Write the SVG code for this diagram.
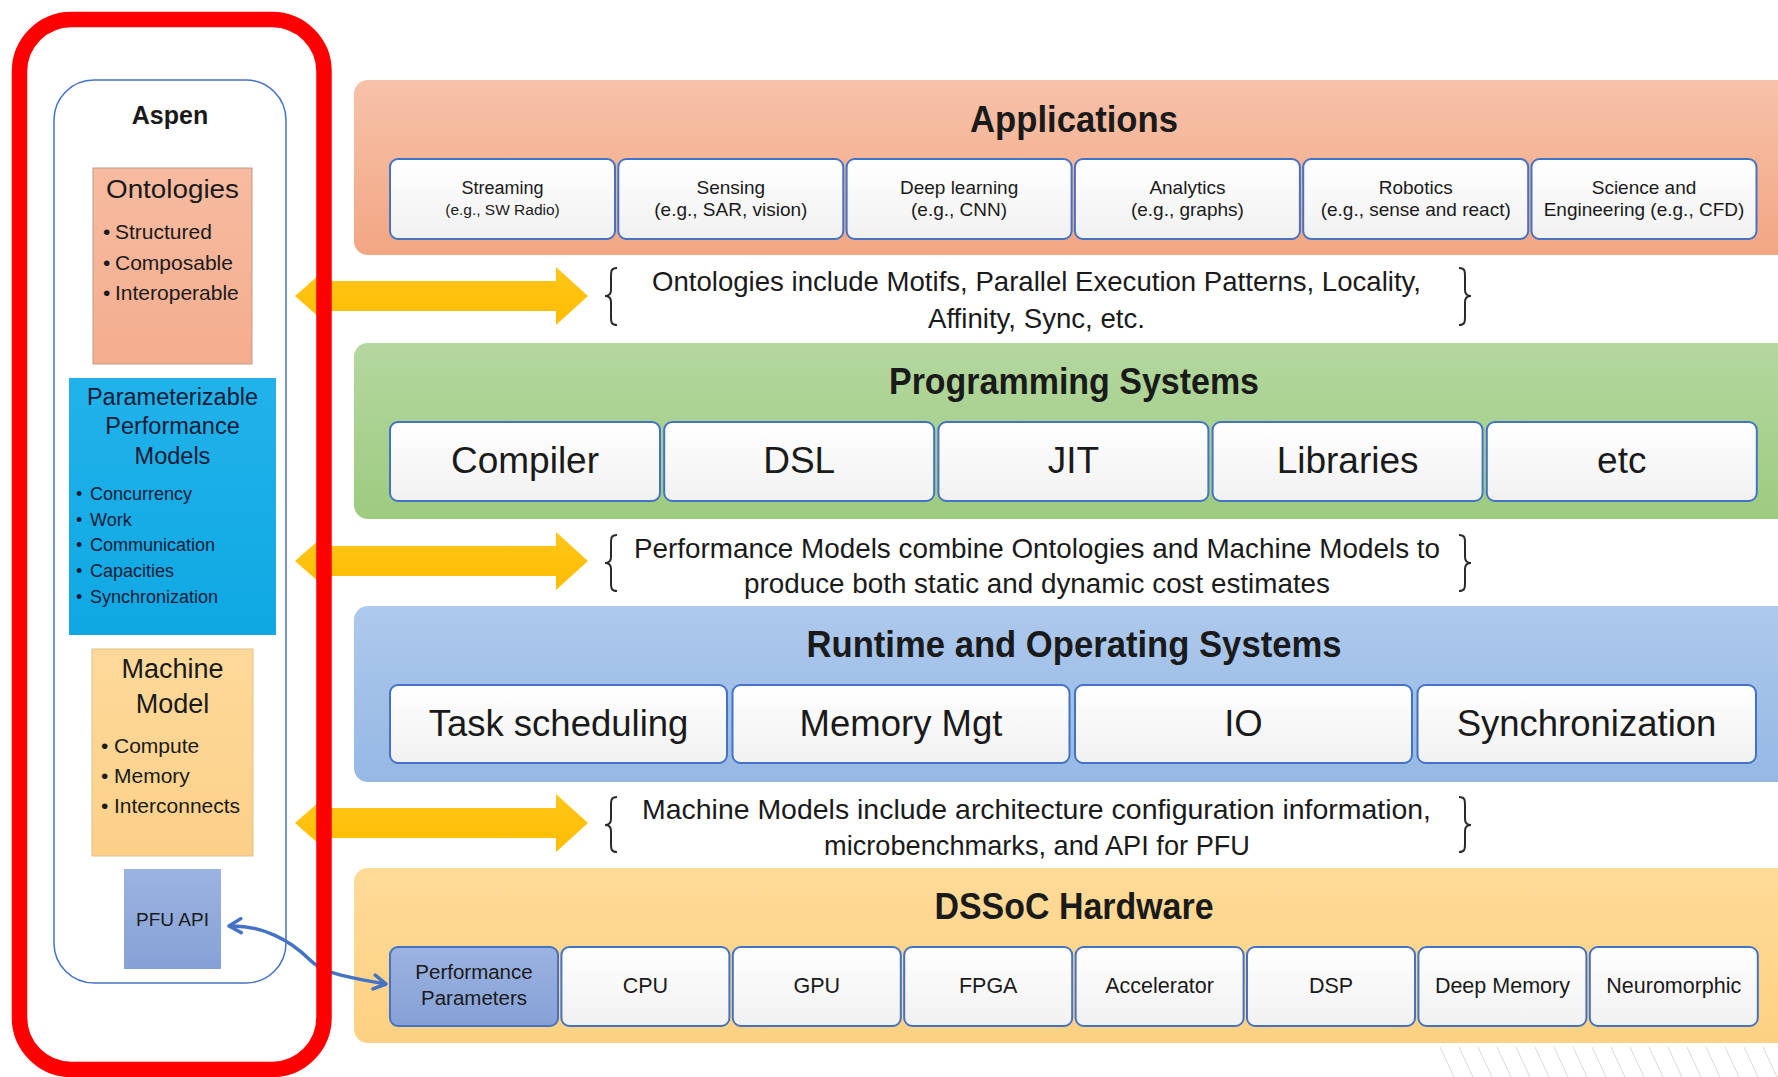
<svg xmlns="http://www.w3.org/2000/svg" width="1778" height="1077" viewBox="0 0 1778 1077">
<defs>
  <linearGradient id="appG" x1="0" y1="0" x2="0" y2="1"><stop offset="0" stop-color="#F7C2A9"/><stop offset="1" stop-color="#F2A683"/></linearGradient>
  <linearGradient id="progG" x1="0" y1="0" x2="0" y2="1"><stop offset="0" stop-color="#B4D79F"/><stop offset="1" stop-color="#9DCB80"/></linearGradient>
  <linearGradient id="rtG" x1="0" y1="0" x2="0" y2="1"><stop offset="0" stop-color="#ADC9EC"/><stop offset="1" stop-color="#96B8E4"/></linearGradient>
  <linearGradient id="hwG" x1="0" y1="0" x2="0" y2="1"><stop offset="0" stop-color="#FFDB98"/><stop offset="1" stop-color="#FDD182"/></linearGradient>
  <linearGradient id="subG" x1="0" y1="0" x2="0" y2="1"><stop offset="0" stop-color="#FFFFFF"/><stop offset="1" stop-color="#F1F1F1"/></linearGradient>
  <linearGradient id="ontG" x1="0" y1="0" x2="0" y2="1"><stop offset="0" stop-color="#F7BBA1"/><stop offset="1" stop-color="#F4AD8E"/></linearGradient>
  <linearGradient id="parG" x1="0" y1="0" x2="0" y2="1"><stop offset="0" stop-color="#22B2EA"/><stop offset="1" stop-color="#0FA8E3"/></linearGradient>
  <linearGradient id="mmG" x1="0" y1="0" x2="0" y2="1"><stop offset="0" stop-color="#FED99A"/><stop offset="1" stop-color="#FCD089"/></linearGradient>
  <linearGradient id="pfuG" x1="0" y1="0" x2="0" y2="1"><stop offset="0" stop-color="#9BB3E0"/><stop offset="1" stop-color="#86A1D7"/></linearGradient>
  <linearGradient id="yelG" x1="0" y1="0" x2="0" y2="1"><stop offset="0" stop-color="#FFC61A"/><stop offset="1" stop-color="#FFBC00"/></linearGradient>
  <marker id="pfuHead" markerUnits="userSpaceOnUse" viewBox="0 0 18 18" markerWidth="18" markerHeight="18" refX="15" refY="9" orient="auto-start-reverse">
    <path d="M3,2 L15,9 L3,16" fill="none" stroke="#4472C4" stroke-width="3.5" stroke-linecap="round" stroke-linejoin="round"/>
  </marker>
</defs>
<style>
  .t { font-family: "Liberation Sans", Arial, sans-serif; fill: #1a1a1a; }
  .m { text-anchor: middle; }
  .b { font-weight: bold; }
  .nv { fill: #0E1B36; }
  .sub { fill: url(#subG); stroke: #4472C4; stroke-width: 2; }
  .brace { fill: none; stroke: #2a2a2a; stroke-width: 2; }
  .yarrow { fill: url(#yelG); }
  .hatch { stroke: #d9d9d9; stroke-width: 1; }
  .app { font-size: 19px; }
  .prog { font-size: 37px; }
  .rt { font-size: 36.5px; }
  .hw { font-size: 21.5px; }
  .title { font-size: 36px; font-weight: bold; }
  .note { font-size: 27.5px; }
</style>
<rect width="1778" height="1077" fill="#FFFFFF"/>

<g id="background-hatch">
  <line class="hatch" x1="1440" y1="1047" x2="1454" y2="1077"/>
  <line class="hatch" x1="1459" y1="1047" x2="1473" y2="1077"/>
  <line class="hatch" x1="1478" y1="1047" x2="1492" y2="1077"/>
  <line class="hatch" x1="1497" y1="1047" x2="1511" y2="1077"/>
  <line class="hatch" x1="1516" y1="1047" x2="1530" y2="1077"/>
  <line class="hatch" x1="1535" y1="1047" x2="1549" y2="1077"/>
  <line class="hatch" x1="1554" y1="1047" x2="1568" y2="1077"/>
  <line class="hatch" x1="1573" y1="1047" x2="1587" y2="1077"/>
  <line class="hatch" x1="1592" y1="1047" x2="1606" y2="1077"/>
  <line class="hatch" x1="1611" y1="1047" x2="1625" y2="1077"/>
  <line class="hatch" x1="1630" y1="1047" x2="1644" y2="1077"/>
  <line class="hatch" x1="1649" y1="1047" x2="1663" y2="1077"/>
  <line class="hatch" x1="1668" y1="1047" x2="1682" y2="1077"/>
  <line class="hatch" x1="1687" y1="1047" x2="1701" y2="1077"/>
  <line class="hatch" x1="1706" y1="1047" x2="1720" y2="1077"/>
  <line class="hatch" x1="1725" y1="1047" x2="1739" y2="1077"/>
  <line class="hatch" x1="1744" y1="1047" x2="1758" y2="1077"/>
  <line class="hatch" x1="1763" y1="1047" x2="1777" y2="1077"/>
</g>

<!-- Layer panels -->
<g id="applications">
  <rect x="354" y="80" width="1450" height="175" rx="14" fill="url(#appG)"/>
  <text class="t title m" x="1074" y="132" textLength="208" lengthAdjust="spacingAndGlyphs">Applications</text>
  <g id="app-streaming">
    <rect class="sub" x="390" y="159" width="225" height="80" rx="8"/>
    <text class="t m" x="502.5" y="194" font-size="18">Streaming</text>
    <text class="t m" x="502.5" y="215" font-size="15.5">(e.g., SW Radio)</text>
  </g>
  <g id="app-sensing">
    <rect class="sub" x="618.3" y="159" width="225" height="80" rx="8"/>
    <text class="t m app" x="730.8" y="194">Sensing</text>
    <text class="t m app" x="730.8" y="216">(e.g., SAR, vision)</text>
  </g>
  <g id="app-deep-learning">
    <rect class="sub" x="846.6" y="159" width="225" height="80" rx="8"/>
    <text class="t m app" x="959.1" y="194">Deep learning</text>
    <text class="t m app" x="959.1" y="216">(e.g., CNN)</text>
  </g>
  <g id="app-analytics">
    <rect class="sub" x="1074.9" y="159" width="225" height="80" rx="8"/>
    <text class="t m app" x="1187.4" y="194">Analytics</text>
    <text class="t m app" x="1187.4" y="216">(e.g., graphs)</text>
  </g>
  <g id="app-robotics">
    <rect class="sub" x="1303.2" y="159" width="225" height="80" rx="8"/>
    <text class="t m app" x="1415.7" y="194">Robotics</text>
    <text class="t m app" x="1415.7" y="216">(e.g., sense and react)</text>
  </g>
  <g id="app-science">
    <rect class="sub" x="1531.5" y="159" width="225" height="80" rx="8"/>
    <text class="t m app" x="1644" y="194">Science and</text>
    <text class="t m app" x="1644" y="216">Engineering (e.g., CFD)</text>
  </g>
</g>

<g id="programming-systems">
  <rect x="354" y="343" width="1450" height="176" rx="14" fill="url(#progG)"/>
  <text class="t title m" x="1074" y="394" textLength="370" lengthAdjust="spacingAndGlyphs">Programming Systems</text>
  <g id="prog-compiler">
    <rect class="sub" x="390" y="422" width="270" height="79" rx="8"/>
    <text class="t m prog" x="525" y="473">Compiler</text>
  </g>
  <g id="prog-dsl">
    <rect class="sub" x="664.2" y="422" width="270" height="79" rx="8"/>
    <text class="t m prog" x="799.2" y="473">DSL</text>
  </g>
  <g id="prog-jit">
    <rect class="sub" x="938.4" y="422" width="270" height="79" rx="8"/>
    <text class="t m prog" x="1073.4" y="473">JIT</text>
  </g>
  <g id="prog-libraries">
    <rect class="sub" x="1212.6" y="422" width="270" height="79" rx="8"/>
    <text class="t m prog" x="1347.6" y="473">Libraries</text>
  </g>
  <g id="prog-etc">
    <rect class="sub" x="1486.8" y="422" width="270" height="79" rx="8"/>
    <text class="t m prog" x="1621.8" y="473">etc</text>
  </g>
</g>

<g id="runtime-os">
  <rect x="354" y="606" width="1450" height="176" rx="14" fill="url(#rtG)"/>
  <text class="t title m" x="1074" y="657" textLength="535" lengthAdjust="spacingAndGlyphs">Runtime and Operating Systems</text>
  <g id="rt-task">
    <rect class="sub" x="390" y="685" width="337" height="78" rx="8"/>
    <text class="t m rt" x="558.5" y="736">Task scheduling</text>
  </g>
  <g id="rt-memory">
    <rect class="sub" x="732.5" y="685" width="337" height="78" rx="8"/>
    <text class="t m rt" x="901" y="736">Memory Mgt</text>
  </g>
  <g id="rt-io">
    <rect class="sub" x="1075" y="685" width="337" height="78" rx="8"/>
    <text class="t m rt" x="1243.5" y="736">IO</text>
  </g>
  <g id="rt-sync">
    <rect class="sub" x="1417.5" y="685" width="338.5" height="78" rx="8"/>
    <text class="t m rt" x="1586.5" y="736">Synchronization</text>
  </g>
</g>

<g id="dssoc-hardware">
  <rect x="354" y="868" width="1450" height="175" rx="14" fill="url(#hwG)"/>
  <text class="t title m" x="1074" y="919" textLength="279" lengthAdjust="spacingAndGlyphs">DSSoC Hardware</text>
  <g id="hw-perf-params">
    <rect x="390" y="947" width="168" height="79" rx="8" fill="url(#pfuG)" stroke="#4472C4" stroke-width="2"/>
    <text class="t m" x="474" y="979" font-size="20.5">Performance</text>
    <text class="t m" x="474" y="1005" font-size="20.5">Parameters</text>
  </g>
  <g id="hw-cpu">
    <rect class="sub" x="561.4" y="947" width="168" height="79" rx="8"/>
    <text class="t m hw" x="645.4" y="993">CPU</text>
  </g>
  <g id="hw-gpu">
    <rect class="sub" x="732.8" y="947" width="168" height="79" rx="8"/>
    <text class="t m hw" x="816.8" y="993">GPU</text>
  </g>
  <g id="hw-fpga">
    <rect class="sub" x="904.2" y="947" width="168" height="79" rx="8"/>
    <text class="t m hw" x="988.2" y="993">FPGA</text>
  </g>
  <g id="hw-accelerator">
    <rect class="sub" x="1075.6" y="947" width="168" height="79" rx="8"/>
    <text class="t m hw" x="1159.6" y="993">Accelerator</text>
  </g>
  <g id="hw-dsp">
    <rect class="sub" x="1247" y="947" width="168" height="79" rx="8"/>
    <text class="t m hw" x="1331" y="993">DSP</text>
  </g>
  <g id="hw-deep-memory">
    <rect class="sub" x="1418.4" y="947" width="168" height="79" rx="8"/>
    <text class="t m hw" x="1502.4" y="993">Deep Memory</text>
  </g>
  <g id="hw-neuromorphic">
    <rect class="sub" x="1589.8" y="947" width="168" height="79" rx="8"/>
    <text class="t m hw" x="1673.8" y="993">Neuromorphic</text>
  </g>
</g>

<!-- Notes with braces -->
<g id="note-ontologies">
  <path class="brace" d="M617,268 C611,268 611,271 611,277 L611,290 C611,294 609,296 605,296 C609,296 611,298 611,302 L611,316 C611,322 611,325 617,325"/>
  <path class="brace" d="M1459,268 C1465,268 1465,271 1465,277 L1465,290 C1465,294 1467,296 1471,296 C1467,296 1465,298 1465,302 L1465,316 C1465,322 1465,325 1459,325"/>
  <text class="t m note" x="1036.5" y="291" textLength="769" lengthAdjust="spacingAndGlyphs">Ontologies include Motifs, Parallel Execution Patterns, Locality,</text>
  <text class="t m note" x="1036.5" y="328" textLength="217" lengthAdjust="spacingAndGlyphs">Affinity, Sync, etc.</text>
</g>
<g id="note-performance-models">
  <path class="brace" d="M617,535 C611,535 611,538 611,544 L611,557 C611,561 609,563 605,563 C609,563 611,565 611,569 L611,582 C611,588 611,591 617,591"/>
  <path class="brace" d="M1459,535 C1465,535 1465,538 1465,544 L1465,557 C1465,561 1467,563 1471,563 C1467,563 1465,565 1465,569 L1465,582 C1465,588 1465,591 1459,591"/>
  <text class="t m note" x="1037" y="557.5" textLength="806" lengthAdjust="spacingAndGlyphs">Performance Models combine Ontologies and Machine Models to</text>
  <text class="t m note" x="1037" y="593" textLength="586" lengthAdjust="spacingAndGlyphs">produce both static and dynamic cost estimates</text>
</g>
<g id="note-machine-models">
  <path class="brace" d="M617,797 C611,797 611,800 611,806 L611,819 C611,823 609,825 605,825 C609,825 611,827 611,831 L611,843 C611,849 611,852 617,852"/>
  <path class="brace" d="M1459,797 C1465,797 1465,800 1465,806 L1465,819 C1465,823 1467,825 1471,825 C1467,825 1465,827 1465,831 L1465,843 C1465,849 1465,852 1459,852"/>
  <text class="t m note" x="1036.5" y="818.5" textLength="789" lengthAdjust="spacingAndGlyphs">Machine Models include architecture configuration information,</text>
  <text class="t m note" x="1037" y="854.5" textLength="426" lengthAdjust="spacingAndGlyphs">microbenchmarks, and API for PFU</text>
</g>

<!-- Aspen column -->
<g id="aspen">
  <rect x="54" y="80" width="232" height="903" rx="40" fill="#FFFFFF" stroke="#4472C4" stroke-width="1.5"/>
  <text class="t m b" x="170" y="124" font-size="25">Aspen</text>
</g>
<g id="ontologies">
  <rect x="93" y="168" width="159" height="196" fill="url(#ontG)" stroke="#C0998A" stroke-width="1"/>
  <text class="t m" x="172.5" y="198" font-size="26" textLength="133" lengthAdjust="spacingAndGlyphs">Ontologies</text>
  <text class="t" x="103" y="239" font-size="21">•</text><text class="t" x="115" y="239" font-size="21">Structured</text>
  <text class="t" x="103" y="270" font-size="21">•</text><text class="t" x="115" y="270" font-size="21">Composable</text>
  <text class="t" x="103" y="300" font-size="21">•</text><text class="t" x="115" y="300" font-size="21">Interoperable</text>
</g>
<g id="performance-models">
  <rect x="69" y="378" width="207" height="257" fill="url(#parG)"/>
  <text class="t m nv" x="172.5" y="405" font-size="23.5">Parameterizable</text>
  <text class="t m nv" x="172.5" y="434" font-size="23.5">Performance</text>
  <text class="t m nv" x="172.5" y="464" font-size="23.5">Models</text>
  <text class="t nv" x="76" y="500" font-size="18">•</text><text class="t nv" x="90" y="500" font-size="18">Concurrency</text>
  <text class="t nv" x="76" y="526" font-size="18">•</text><text class="t nv" x="90" y="526" font-size="18">Work</text>
  <text class="t nv" x="76" y="551" font-size="18">•</text><text class="t nv" x="90" y="551" font-size="18">Communication</text>
  <text class="t nv" x="76" y="577" font-size="18">•</text><text class="t nv" x="90" y="577" font-size="18">Capacities</text>
  <text class="t nv" x="76" y="603" font-size="18">•</text><text class="t nv" x="90" y="603" font-size="18">Synchronization</text>
</g>
<g id="machine-model">
  <rect x="92" y="649" width="161" height="207" fill="url(#mmG)" stroke="#E0C08A" stroke-width="1"/>
  <text class="t m" x="172.5" y="678" font-size="27">Machine</text>
  <text class="t m" x="172.5" y="713" font-size="27">Model</text>
  <text class="t" x="101" y="753" font-size="21">•</text><text class="t" x="114" y="753" font-size="21">Compute</text>
  <text class="t" x="101" y="783" font-size="21">•</text><text class="t" x="114" y="783" font-size="21">Memory</text>
  <text class="t" x="101" y="813" font-size="21">•</text><text class="t" x="114" y="813" font-size="21">Interconnects</text>
</g>
<g id="pfu-api">
  <rect x="124" y="869" width="97" height="100" fill="url(#pfuG)"/>
  <text class="t m" x="172.5" y="926" font-size="19" fill="#17243f">PFU API</text>
</g>

<!-- Connectors -->
<g id="connectors">
  <polygon class="yarrow" points="295,296 328,267 328,281 556,281 556,267 588,296 556,325 556,311 328,311 328,325"/>
  <polygon class="yarrow" points="295,561 328,532 328,546 556,546 556,532 588,561 556,590 556,576 328,576 328,590"/>
  <polygon class="yarrow" points="295,823 328,794 328,808 556,808 556,794 588,823 556,852 556,838 328,838 328,852"/>
  <path d="M229,926 C262,925 290,940 310,960 C320,970 332,975 386,984" fill="none" stroke="#4472C4" stroke-width="3.5" marker-start="url(#pfuHead)" marker-end="url(#pfuHead)"/>
</g>

<!-- Highlight frame -->
<g id="highlight-frame">
  <rect x="19.5" y="19.5" width="304.5" height="1050" rx="52" fill="none" stroke="#FF0000" stroke-width="15.5"/>
</g>
</svg>
